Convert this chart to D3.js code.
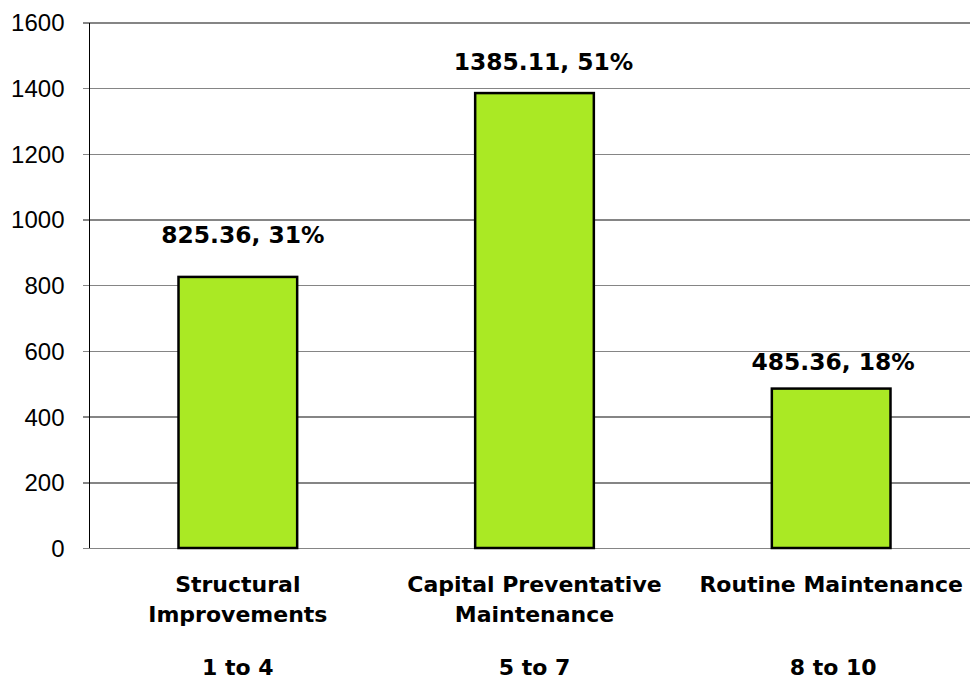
<!DOCTYPE html>
<html>
<head>
<meta charset="utf-8">
<script src="https://cdn.jsdelivr.net/npm/d3@7"></script>
<style>
  html, body { margin: 0; padding: 0; background: #ffffff; }
  svg { display: block; }
</style>
</head>
<body>
<svg id="chart" width="970" height="681"></svg>
<script>
// Treatment categories, their costs and the condition-rating range each covers
const categories = ["Structural Improvements", "Capital Preventative Maintenance", "Routine Maintenance"];
const categoryLines = [["Structural", "Improvements"], ["Capital Preventative", "Maintenance"], ["Routine Maintenance"]];
const ratingRanges = ["1 to 4", "5 to 7", "8 to 10"];
const costs = [825.36, 1385.11, 485.36];
const shares = [31, 51, 18];
const yTicks = [0, 200, 400, 600, 800, 1000, 1200, 1400, 1600];

const svg = d3.select("#chart");

const plot = { left: 89.5, right: 979.5, top: 22.5, bottom: 548 };

const x = d3.scaleBand()
  .domain(categories)
  .range([plot.left, plot.right])
  .padding(0);

const y = d3.scaleLinear()
  .domain([0, 1600])
  .range([plot.bottom, plot.top]);

const barFrac = 0.4;
const barW = x.bandwidth() * barFrac;

// Gridlines with short outward ticks
const yAxis = d3.axisLeft(y)
  .tickValues(yTicks)
  .tickSize(-(plot.right - plot.left))
  .tickSizeOuter(0)
  .tickFormat(d3.format("d"));

const gAxis = svg.append("g")
  .attr("transform", `translate(${plot.left},0)`)
  .call(yAxis);

gAxis.select(".domain").remove();
gAxis.selectAll(".tick line")
  .attr("x1", -7)
  .attr("stroke", "#858585")
  .attr("stroke-width", 1.4)
  .attr("shape-rendering", "crispEdges");
gAxis.selectAll(".tick text")
  .attr("font-family", "Liberation Sans, Arial, sans-serif")
  .attr("font-size", 24)
  .attr("fill", "#000")
  .attr("x", -25)
  .attr("dy", "0.35em");

// Vertical axis line
svg.append("line")
  .attr("x1", plot.left).attr("x2", plot.left)
  .attr("y1", y(1600)).attr("y2", y(0))
  .attr("stroke", "#000")
  .attr("stroke-width", 1.2)
  .attr("shape-rendering", "crispEdges");

// Bars
svg.append("g")
  .selectAll("rect")
  .data(categories)
  .join("rect")
  .attr("x", d => x(d) + (x.bandwidth() - barW) / 2)
  .attr("y", (d, i) => y(costs[i]))
  .attr("width", barW)
  .attr("height", (d, i) => y(0) - y(costs[i]))
  .attr("fill", "#aae924")
  .attr("stroke", "#000")
  .attr("stroke-width", 2.5);

// Value labels above bars
const labelFont = "Century Gothic, DejaVu Sans, sans-serif";
const labelGap = [34, 23, 19];
const labelShift = [5, 9, 2];
svg.append("g")
  .selectAll("text")
  .data(categories)
  .join("text")
  .attr("x", (d, i) => x(d) + x.bandwidth() / 2 + labelShift[i])
  .attr("y", (d, i) => y(costs[i]) - labelGap[i])
  .attr("text-anchor", "middle")
  .attr("font-family", labelFont)
  .attr("font-weight", "bold")
  .attr("font-size", 23.4)
  .attr("fill", "#000")
  .text((d, i) => `${costs[i].toFixed(2)}, ${shares[i]}%`);

// Category names and rating ranges under the axis
const gCat = svg.append("g");
categories.forEach((c, i) => {
  const cx = x(c) + x.bandwidth() / 2;
  categoryLines[i].forEach((line, j) => {
    gCat.append("text")
      .attr("x", cx)
      .attr("y", 592 + j * 30)
      .attr("text-anchor", "middle")
      .attr("font-family", labelFont)
      .attr("font-weight", "bold")
      .attr("font-size", 22)
      .attr("fill", "#000")
      .text(line);
  });
  gCat.append("text")
    .attr("x", cx + (i === 2 ? 2 : 0))
    .attr("y", 675)
    .attr("text-anchor", "middle")
    .attr("font-family", labelFont)
    .attr("font-weight", "bold")
    .attr("font-size", 22)
    .attr("fill", "#000")
    .text(ratingRanges[i]);
});
</script>
</body>
</html>
